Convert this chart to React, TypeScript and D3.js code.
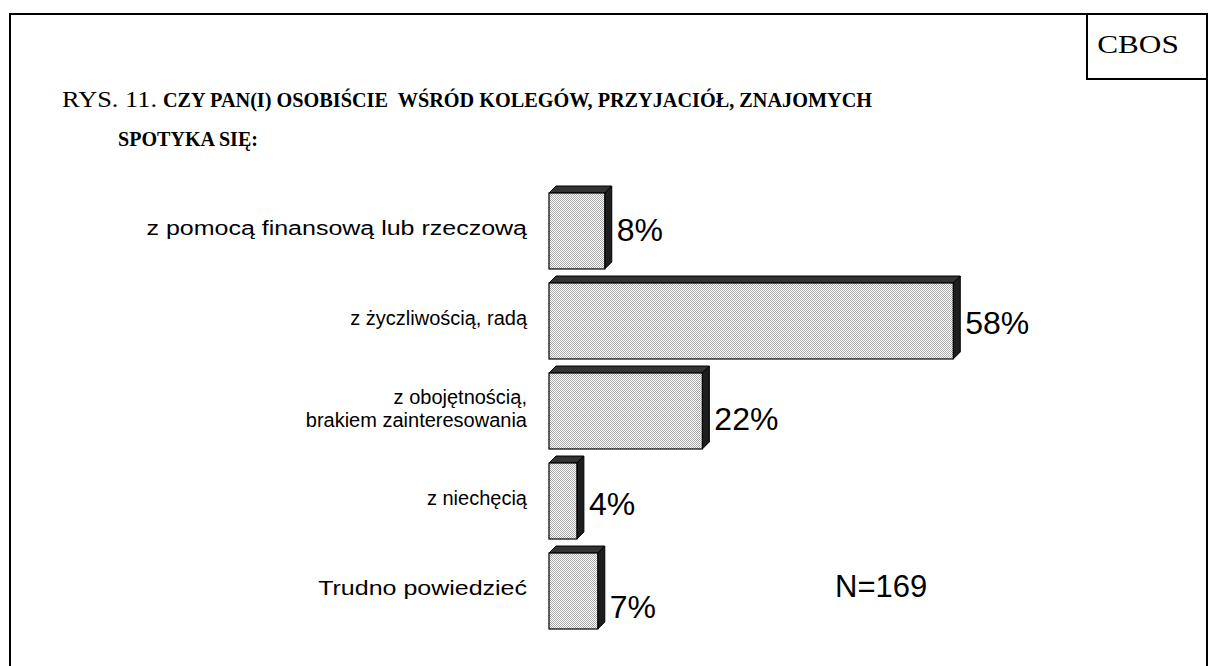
import React from 'react';
import * as d3 from 'd3';

const categories = [
  ['z pomocą finansową lub rzeczową'],
  ['z życzliwością, radą'],
  ['z obojętnością,', 'brakiem zainteresowania'],
  ['z niechęcią'],
  ['Trudno powiedzieć'],
];
const values = [8, 58, 22, 4, 7];
const valueLabels = ['8%', '58%', '22%', '4%', '7%'];

const titleRegular = 'RYS. 11.';
const titleBold1 = 'CZY PAN(I) OSOBIŚCIE  WŚRÓD KOLEGÓW, PRZYJACIÓŁ, ZNAJOMYCH';
const titleBold2 = 'SPOTYKA SIĘ:';
const noteText = 'N=169';

const W = 1208;
const H = 666;
const depth = 7;

// the scan is a bit stretched on some labels
const labelStretch = [1.25, 1, 1, 1, 1.25];
const valueLabelShift = [-2, 1, 7, 2, 1];

export default function App() {
  const x = d3.scaleLinear().domain([0, 100]).range([549, 549 + 697]);
  const y = d3
    .scaleBand<number>()
    .domain(values.map((_, i) => i))
    .range([193, 629])
    .paddingInner(0.156)
    .paddingOuter(0);
  const bw = y.bandwidth();

  const sans = 'Arial, "Liberation Sans", sans-serif';
  const serif = '"Times New Roman", "Liberation Serif", serif';

  return (
    <div style={{ position: 'absolute', left: 0, top: 0 }}>
      <svg width={W} height={H} style={{ display: 'block', background: '#fff' }}>
        <defs>
          <pattern id="dots" width="2" height="2" patternUnits="userSpaceOnUse">
            <rect width="2" height="2" fill="#fff" />
            <rect width="1" height="1" fill="#a8a8a8" />
            <rect x="1" y="1" width="1" height="1" fill="#a8a8a8" />
          </pattern>
        </defs>

        {/* frame */}
        <rect x={10} y={14} width={1197} height={700} fill="none" stroke="#000" strokeWidth={2} />
        <rect x={1087} y={14} width={120} height={65} fill="none" stroke="#000" strokeWidth={2} />
        <text transform="translate(1138,53) scale(1.25,1)" textAnchor="middle" fontFamily={serif} fontSize={25}>CBOS</text>

        {/* title */}
        <text x={62} y={107} fontFamily={serif} fontSize={23} textLength={95} lengthAdjust="spacingAndGlyphs">
          {titleRegular}
        </text>
        <text
          x={163}
          y={107}
          fontFamily={serif}
          fontSize={21}
          fontWeight="bold"
          style={{ whiteSpace: 'pre' }}
          textLength={709}
          lengthAdjust="spacingAndGlyphs"
        >
          {titleBold1}
        </text>
        <text x={118} y={146} fontFamily={serif} fontSize={21} fontWeight="bold" textLength={140} lengthAdjust="spacingAndGlyphs">
          {titleBold2}
        </text>

        {/* bars */}
        {values.map((v, i) => {
          const x0 = x(0);
          const x1 = x(v);
          const y0 = y(i)!;
          const y1 = y0 + bw;
          const top = `M${x0},${y0} L${x0 + depth},${y0 - depth} L${x1 + depth},${y0 - depth} L${x1},${y0} Z`;
          const side = `M${x1},${y0} L${x1 + depth},${y0 - depth} L${x1 + depth},${y1 - depth} L${x1},${y1} Z`;
          return (
            <g key={i}>
              <path d={top} fill="#333" stroke="#000" strokeWidth={1} />
              <path d={side} fill="#1e1e1e" stroke="#000" strokeWidth={1} />
              <rect x={x0} y={y0} width={x1 - x0} height={bw} fill="url(#dots)" stroke="#000" strokeWidth={1.2} />
              <text
                x={x1 + depth + 5}
                y={y0 + bw / 2 + (i === 4 ? 14 : 0) + valueLabelShift[i]}
                dy="0.36em"
                fontFamily={sans}
                fontSize={32}
              >
                {valueLabels[i]}
              </text>
            </g>
          );
        })}

        {/* category labels */}
        {categories.map((lines, i) => {
          const cy = y(i)! + bw / 2 - 3;
          const lh = 23;
          return (
            <text
              key={i}
              transform={`translate(527,${cy}) scale(${labelStretch[i]},1)`}
              textAnchor="end"
              fontFamily={sans}
              fontSize={20}
            >
              {lines.map((ln, j) => (
                <tspan key={j} x={0} y={(j - (lines.length - 1) / 2) * lh} dy="0.36em">
                  {ln}
                </tspan>
              ))}
            </text>
          );
        })}

        <text x={835} y={586} dy="0.36em" fontFamily={sans} fontSize={31}>{noteText}</text>
      </svg>
    </div>
  );
}
